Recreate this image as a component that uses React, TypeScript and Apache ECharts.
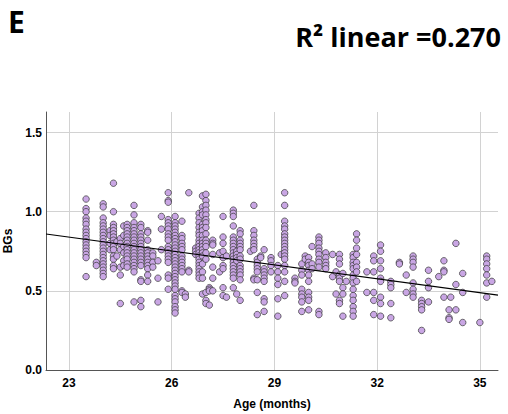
import React, { useEffect, useRef } from "react";
import * as echarts from "echarts";

// Age columns (months) and the BG values observed in each column
const ageColumns = [
  23.5, 23.8, 24.0, 24.2, 24.3, 24.4, 24.5, 24.6, 24.7, 24.9,
  25.1, 25.3, 25.45, 25.6, 25.7, 25.9, 26.1, 26.3, 26.4, 26.5,
  26.7, 26.8, 26.9, 27.0, 27.1, 27.2, 27.4, 27.5, 27.6, 27.8,
  27.9, 28.0, 28.3, 28.4, 28.5, 28.6, 28.7, 28.9, 29.1, 29.2,
  29.3, 29.6, 29.8, 29.9, 30.0, 30.1, 30.3, 30.5, 30.7, 30.8,
  30.9, 31.0, 31.1, 31.3, 31.4, 31.7, 31.9, 32.1, 32.4, 32.65,
  32.85, 33.05, 33.3, 33.5, 33.8, 33.95, 34.1, 34.15, 34.3, 34.5,
  35.0, 35.2, 35.35,
];

const bgColumns = [
  [1.08, 1.02, 1.0, 0.96, 0.94, 0.92, 0.89, 0.87, 0.85, 0.83, 0.81, 0.79, 0.77, 0.75, 0.73, 0.71, 0.59],
  [0.68, 0.66],
  [1.05, 1.03, 0.96, 0.93, 0.91, 0.89, 0.87, 0.85, 0.83, 0.81, 0.79, 0.77, 0.75, 0.73, 0.71, 0.69, 0.67, 0.65, 0.63, 0.61, 0.59],
  [0.88, 0.85, 0.8, 0.76],
  [1.18, 1.0, 0.92, 0.9, 0.88, 0.86, 0.84, 0.82, 0.8, 0.78, 0.76, 0.72, 0.7, 0.66, 0.64],
  [0.72, 0.81],
  [0.83, 0.8, 0.76, 0.65, 0.6, 0.42],
  [0.91, 0.85, 0.78, 0.74, 0.69, 0.66],
  [0.92, 0.9, 0.88, 0.86, 0.84, 0.82, 0.8, 0.78, 0.76, 0.74, 0.72, 0.7, 0.67, 0.65],
  [1.04, 0.98, 0.93, 0.9, 0.88, 0.86, 0.84, 0.82, 0.8, 0.78, 0.76, 0.74, 0.72, 0.7, 0.68, 0.66, 0.64, 0.62, 0.43],
  [0.92, 0.9, 0.86, 0.84, 0.82, 0.8, 0.78, 0.76, 0.74, 0.72, 0.7, 0.68, 0.66, 0.57, 0.56, 0.44, 0.4],
  [0.88, 0.87, 0.82, 0.76, 0.74, 0.72, 0.7, 0.68, 0.66, 0.64, 0.6, 0.56],
  [0.74, 0.72, 0.68, 0.65],
  [0.69, 0.58, 0.43],
  [0.97, 0.89, 0.76],
  [1.12, 1.07, 1.06, 0.95, 0.93, 0.91, 0.89, 0.86, 0.84, 0.82, 0.78, 0.76, 0.74, 0.72, 0.7, 0.68, 0.6, 0.58, 0.51],
  [0.97, 0.93, 0.91, 0.89, 0.87, 0.85, 0.83, 0.81, 0.79, 0.77, 0.75, 0.73, 0.71, 0.69, 0.67, 0.65, 0.63, 0.61, 0.59, 0.57, 0.55, 0.53, 0.51, 0.47, 0.45, 0.43, 0.4, 0.38, 0.36],
  [0.94, 0.85, 0.83, 0.8, 0.78, 0.76, 0.72, 0.7, 0.68, 0.66, 0.64, 0.62, 0.5, 0.49],
  [0.48, 0.46],
  [1.12, 0.63, 0.62],
  [0.77, 0.75, 0.73],
  [0.99, 0.96, 0.93, 0.9, 0.87, 0.85, 0.82, 0.8, 0.78, 0.76, 0.74, 0.72, 0.7, 0.68, 0.66, 0.64, 0.62, 0.6, 0.58],
  [1.1, 1.03, 1.0, 0.98, 0.92, 0.9, 0.88, 0.85, 0.82, 0.8, 0.78, 0.76, 0.74, 0.72, 0.67, 0.62, 0.58, 0.48],
  [1.11, 1.07, 1.04, 1.01, 0.98, 0.95, 0.93, 0.9, 0.86, 0.82, 0.8, 0.78, 0.74, 0.7, 0.49, 0.44, 0.42],
  [0.52, 0.51, 0.5, 0.41],
  [0.82, 0.8, 0.79, 0.73, 0.65, 0.58, 0.5],
  [0.74, 0.62],
  [0.97, 0.84, 0.8, 0.75, 0.71, 0.66, 0.64, 0.52, 0.47],
  [0.72, 0.46],
  [1.01, 0.99, 0.97, 0.91, 0.84, 0.82, 0.8, 0.78, 0.76, 0.74, 0.72, 0.7, 0.68, 0.66, 0.64, 0.62, 0.6, 0.58, 0.52],
  [0.75, 0.73, 0.71, 0.69, 0.48],
  [0.88, 0.86, 0.82, 0.8, 0.78, 0.76, 0.72, 0.7, 0.66, 0.64, 0.62, 0.6, 0.57, 0.44],
  [0.75],
  [1.04, 0.88, 0.85, 0.82, 0.8, 0.78, 0.76, 0.58, 0.57],
  [0.7, 0.68, 0.66, 0.64, 0.62, 0.57, 0.49, 0.35],
  [0.72, 0.71],
  [0.76, 0.64, 0.62, 0.6, 0.58, 0.56, 0.45, 0.43, 0.37],
  [0.71, 0.69, 0.66, 0.62],
  [0.66, 0.62, 0.58, 0.54, 0.45, 0.34],
  [0.73],
  [1.12, 1.04, 0.94, 0.91, 0.89, 0.86, 0.84, 0.82, 0.8, 0.78, 0.76, 0.74, 0.72, 0.7, 0.66, 0.62, 0.56, 0.47],
  [0.58, 0.56, 0.55],
  [0.67, 0.63, 0.6, 0.51, 0.48, 0.46, 0.43, 0.37],
  [0.72, 0.7],
  [0.71, 0.68, 0.66, 0.63, 0.6, 0.56, 0.49, 0.46, 0.44, 0.38],
  [0.78, 0.67, 0.64],
  [0.84, 0.82, 0.8, 0.77, 0.75, 0.73, 0.7, 0.68, 0.65, 0.37, 0.35],
  [0.74, 0.71, 0.68, 0.66, 0.64],
  [0.73, 0.59],
  [0.48, 0.62],
  [0.73, 0.7, 0.67, 0.6, 0.58, 0.56, 0.44, 0.42],
  [0.61, 0.52, 0.48, 0.34],
  [0.56],
  [0.73, 0.71, 0.68, 0.66, 0.64, 0.6, 0.58, 0.55, 0.51, 0.47, 0.44, 0.4, 0.37, 0.34],
  [0.86, 0.82, 0.77, 0.73, 0.68, 0.65, 0.62, 0.56],
  [0.62, 0.49],
  [0.72, 0.69, 0.62, 0.49, 0.44, 0.35],
  [0.79, 0.75, 0.69, 0.64, 0.58, 0.56, 0.46, 0.42, 0.34],
  [0.56, 0.54, 0.52, 0.42, 0.33],
  [0.68, 0.67],
  [0.6, 0.49],
  [0.72, 0.7, 0.68, 0.65, 0.55, 0.51, 0.48, 0.46],
  [0.44, 0.42, 0.4, 0.38, 0.25],
  [0.63, 0.56, 0.52, 0.43],
  [0.59],
  [0.69, 0.63, 0.62, 0.46],
  [0.38, 0.33, 0.32],
  [0.46],
  [0.8, 0.54, 0.38],
  [0.61, 0.49, 0.3],
  [0.3],
  [0.72, 0.7, 0.67, 0.64, 0.6, 0.55, 0.46],
  [0.56],
];

const xTicks = [23, 26, 29, 32, 35];
const yTicks = [0, 0.5, 1.0, 1.5];
const xRange = [22.33, 35.53];
const yRange = [0, 1.63];
const fitIntercept = 1.5135;
const fitSlope = -0.0293;
const panelLabel = "E";
const fitLabel = "R² linear =0.270";

export default function App() {
  const ref = useRef<HTMLDivElement>(null);

  useEffect(() => {
    document.body.style.margin = "0";
    const chart = echarts.init(ref.current!, null, { renderer: "svg" });
    const points = ageColumns.flatMap((a, i) => bgColumns[i].map((v) => [a, v]));
    const fitLine = xRange.map((x) => [x, fitIntercept + fitSlope * x]);
    const labelFont = {
      color: "#000",
      fontWeight: "bold" as const,
      fontSize: 12,
      fontFamily: "Liberation Sans, Arial, sans-serif",
    };

    chart.setOption({
      animation: false,
      backgroundColor: "#ffffff",
      grid: {
        left: 46,
        right: 10,
        top: 112,
        bottom: 44,
        containLabel: false,
        outerBoundsMode: "none",
      },
      xAxis: {
        type: "value",
        min: xRange[0],
        max: xRange[1],
        name: "Age (months)",
        nameLocation: "middle",
        nameGap: 28,
        nameTextStyle: { ...labelFont },
        axisLine: { show: true, lineStyle: { color: "#555", width: 1 } },
        axisTick: { show: false, customValues: xTicks },
        axisLabel: { ...labelFont, margin: 7, customValues: xTicks },
        splitLine: { show: true, lineStyle: { color: "#d2d2d2", width: 1 } },
      },
      yAxis: {
        type: "value",
        min: yRange[0],
        max: yRange[1],
        name: "BGs",
        nameLocation: "middle",
        nameGap: 21,
        nameTextStyle: { ...labelFont },
        axisLine: { show: true, lineStyle: { color: "#555", width: 1 } },
        axisTick: { show: false, customValues: yTicks },
        axisLabel: {
          ...labelFont,
          margin: 4,
          customValues: yTicks,
          formatter: (v: number) => v.toFixed(1),
        },
        splitLine: { show: true, lineStyle: { color: "#d2d2d2", width: 1 } },
      },
      graphic: [
        {
          type: "text",
          left: 8,
          top: 6,
          style: {
            text: panelLabel,
            fill: "#000",
            font: "bold 30px 'Open Sans', sans-serif",
          },
        },
        {
          type: "text",
          right: 7,
          top: 23,
          style: {
            text: fitLabel,
            fill: "#000",
            font: "bold 27px 'Open Sans', sans-serif",
          },
        },
      ],
      series: [
        {
          type: "scatter",
          data: points,
          symbol: "circle",
          symbolSize: 6.5,
          itemStyle: {
            color: "#c9a6e4",
            borderColor: "#333",
            borderWidth: 0.7,
            opacity: 1,
          },
          z: 2,
        },
        {
          type: "line",
          data: fitLine,
          showSymbol: false,
          symbol: "none",
          lineStyle: { color: "#000", width: 1.2 },
          z: 3,
        },
      ],
    });
    return () => chart.dispose();
  }, []);

  return <div ref={ref} style={{ width: 508, height: 414 }} />;
}
